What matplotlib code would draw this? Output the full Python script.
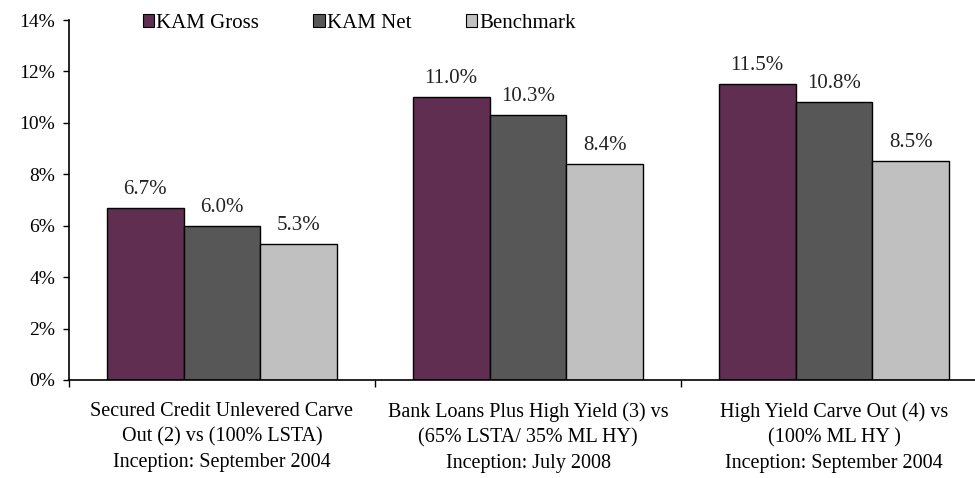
import numpy as np
import matplotlib.pyplot as plt
from matplotlib.patches import Patch

plt.rcParams['font.family'] = ['Liberation Serif', 'DejaVu Serif']

categories = [
    'Secured Credit Unlevered Carve\nOut (2) vs (100% LSTA)\nInception: September 2004',
    'Bank Loans Plus High Yield (3) vs\n(65% LSTA/ 35% ML HY)\nInception: July 2008',
    'High Yield Carve Out (4) vs\n(100% ML HY )\nInception: September 2004',
]
series_names = ['KAM Gross', 'KAM Net', 'Benchmark']
kam_gross = [6.7, 11.0, 11.5]
kam_net = [6.0, 10.3, 10.8]
benchmark = [5.3, 8.4, 8.5]
y_ticks = [0, 2, 4, 6, 8, 10, 12, 14]

colors = ['#5F2E50', '#575757', '#C0C0C0']

fig = plt.figure(figsize=(9.75, 4.78), dpi=100)
ax = fig.add_axes([69 / 975, 1 - 380 / 478, 918 / 975, 360 / 478])

x = np.arange(len(categories))
width = 0.251
for i, (vals, col) in enumerate(zip([kam_gross, kam_net, benchmark], colors)):
    pos = x + (i - 1) * width
    ax.bar(pos, vals, width, color=col, edgecolor='black', linewidth=1.0)
    for p, v in zip(pos, vals):
        ax.text(p, v + 0.35, f'{v:.1f}%', ha='center', va='bottom',
                fontsize=15, color='#222222')

ax.set_xlim(-0.5, 2.5)
ax.set_ylim(0, 14)
ax.set_yticks(y_ticks)
ax.set_yticklabels([f'{t}%' for t in y_ticks], fontsize=14)

# boundaries get the tick marks, centres get the labels
ax.set_xticks([-0.5, 0.5, 1.5, 2.5])
ax.set_xticklabels([])
ax.set_xticks(x, minor=True)
ax.set_xticklabels(categories, minor=True, fontsize=14.5, linespacing=1.45)
ax.tick_params(axis='x', which='minor', length=0, pad=16)
ax.tick_params(axis='x', which='major', length=5, width=1, direction='out')
ax.tick_params(axis='y', length=4, width=1, direction='out', pad=6)

for s in ['top', 'right']:
    ax.spines[s].set_visible(False)
ax.spines['left'].set_linewidth(1.2)
ax.spines['bottom'].set_linewidth(1.2)

handles = [Patch(facecolor=c, edgecolor='black', linewidth=0.8) for c in colors]
fig.legend(handles, series_names, loc='upper left', bbox_to_anchor=(124 / 975, 1.01),
           ncol=3, frameon=False, fontsize=15, handlelength=0.55, handleheight=0.55,
           handletextpad=0.1, columnspacing=2.6)

fig.savefig('out.png', dpi=100)
